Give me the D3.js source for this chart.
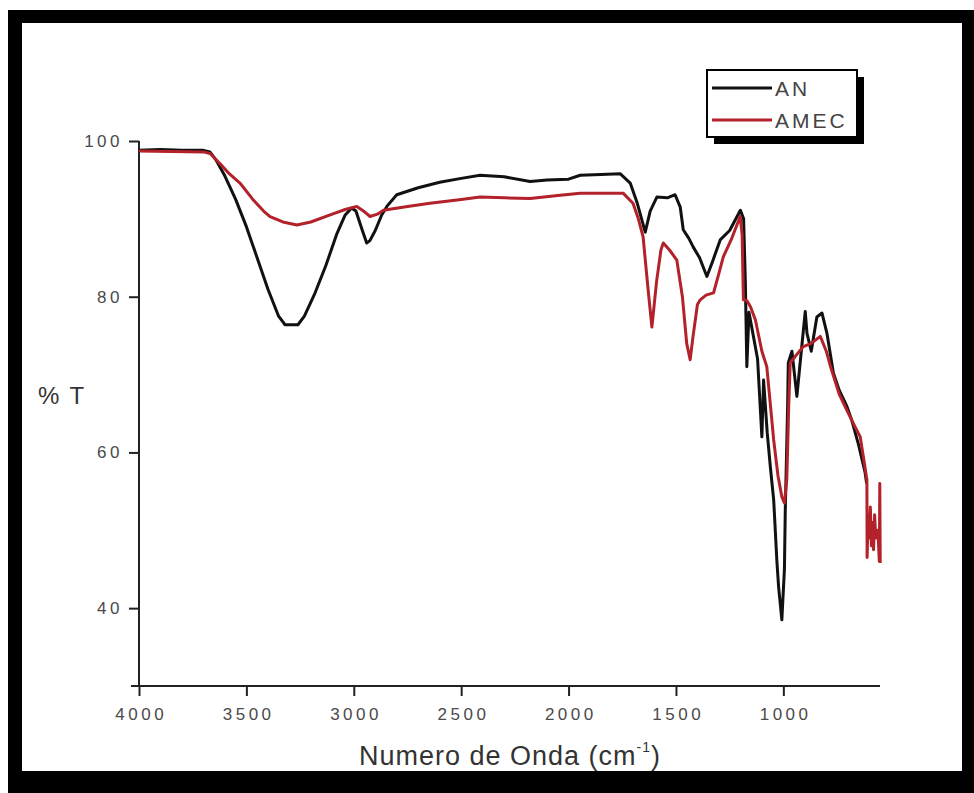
<!DOCTYPE html>
<html>
<head>
<meta charset="utf-8">
<script src="https://cdn.jsdelivr.net/npm/d3@7"></script>
<style>
  html, body { margin: 0; padding: 0; background: #fff; }
  svg { display: block; }
  text { font-family: "Liberation Sans", Arial, sans-serif; }
</style>
</head>
<body>
<svg id="chart" width="974" height="793"></svg>
<script>
// ---- data ----
const seriesNames = ["AN", "AMEC"];
const seriesColors = ["#111111", "#b3212b"];

const xMajorTicks = [4000, 3500, 3000, 2500, 2000, 1500, 1000];
const xMinorTicks = [3750, 3250, 2750, 2250, 1750, 1250, 750];
const yMajorTicks = [40, 60, 80, 100];
const yMinorTicks = [50, 70, 90];

const anWave = [4000, 3900, 3800, 3700, 3670, 3640, 3600, 3550, 3500, 3450, 3400, 3350, 3320, 3260, 3230, 3180, 3130, 3080, 3040, 3010, 2990, 2960, 2940, 2925, 2900, 2870, 2846, 2800, 2700, 2600, 2500, 2412, 2300, 2179, 2100, 2000, 1946, 1850, 1760, 1713, 1680, 1660, 1643, 1620, 1589, 1540, 1504, 1480, 1466, 1440, 1420, 1390, 1356, 1330, 1294, 1250, 1200, 1185, 1177, 1170, 1160, 1140, 1120, 1100, 1092, 1075, 1060, 1045, 1030, 1022, 1007, 995, 991, 980, 977, 960, 937, 920, 898, 890, 870, 844, 820, 797, 767, 740, 704, 680, 650, 620, 612];
const anT    = [98.8, 98.9, 98.8, 98.8, 98.6, 97.5, 95.5, 92.5, 89.0, 85.0, 81.0, 77.5, 76.4, 76.4, 77.5, 80.5, 84.0, 88.0, 90.5, 91.4, 91.0, 88.5, 86.9, 87.2, 88.5, 90.5, 91.6, 93.1, 94.0, 94.7, 95.2, 95.6, 95.4, 94.8, 95.0, 95.1, 95.6, 95.7, 95.8, 94.6, 92.0, 90.0, 88.3, 91.0, 92.8, 92.7, 93.1, 91.5, 88.6, 87.5, 86.4, 85.0, 82.6, 84.5, 87.3, 88.5, 91.1, 90.0, 82.0, 71.0, 78.0, 75.0, 72.0, 62.0, 69.3, 62.5, 58.0, 53.9, 46.0, 42.7, 38.5, 45.0, 52.6, 66.0, 71.5, 73.0, 67.2, 72.0, 78.1, 75.3, 73.0, 77.4, 77.9, 75.3, 70.2, 68.0, 65.9, 64.0, 61.0, 57.5, 56.0];

const amecWave = [4000, 3700, 3669, 3620, 3580, 3530, 3470, 3420, 3390, 3330, 3265, 3200, 3110, 3040, 2986, 2950, 2924, 2890, 2862, 2750, 2645, 2500, 2412, 2300, 2179, 2050, 1946, 1850, 1746, 1700, 1675, 1653, 1630, 1612, 1590, 1570, 1559, 1530, 1496, 1470, 1450, 1434, 1420, 1400, 1387, 1360, 1325, 1300, 1280, 1240, 1201, 1192, 1186, 1170, 1153, 1130, 1100, 1077, 1060, 1045, 1025, 1007, 995, 984, 975, 968, 940, 907, 870, 828, 800, 780, 740, 704, 670, 642, 625, 611, 610, 605, 600, 595, 590, 585, 580, 575, 570, 560, 553, 551, 549];
const amecT    = [98.7, 98.6, 98.4, 97.0, 95.8, 94.6, 92.5, 91.0, 90.3, 89.6, 89.2, 89.6, 90.5, 91.2, 91.6, 90.9, 90.3, 90.6, 91.1, 91.6, 92.0, 92.5, 92.8, 92.7, 92.6, 93.0, 93.3, 93.3, 93.3, 92.0, 90.0, 87.7, 81.0, 76.1, 82.0, 86.0, 86.9, 86.0, 84.7, 80.0, 74.0, 71.9, 75.0, 79.0, 79.6, 80.2, 80.5, 83.0, 85.1, 87.5, 90.3, 88.0, 79.6, 79.5, 78.7, 77.0, 73.0, 71.0, 66.0, 61.6, 57.0, 54.3, 53.5, 56.5, 66.0, 71.5, 72.5, 73.6, 74.0, 74.9, 73.0, 71.0, 67.5, 65.4, 63.5, 62.0, 59.0, 56.5, 46.5, 52.0, 49.0, 53.0, 48.0, 51.0, 47.5, 52.0, 49.0, 50.0, 46.0, 56.0, 45.8];

// ---- drawing ----
const svg = d3.select("#chart");

// outer black frame
svg.append("rect").attr("x", 8).attr("y", 10).attr("width", 966).attr("height", 783).attr("fill", "#000");
svg.append("rect").attr("x", 22).attr("y", 23).attr("width", 940).attr("height", 748).attr("fill", "#fff");

const x = d3.scaleLinear().domain([4000, 550]).range([139, 880]);
const y = d3.scaleLinear().domain([30, 100]).range([686, 141]);

const axisColor = "#222";
const labelColor = "#4a4a4a";

// x axis
const gx = svg.append("g").attr("transform", `translate(0,${y(30)})`);
gx.call(d3.axisBottom(x).tickValues(xMinorTicks).tickSize(6).tickFormat(""));
gx.call(d3.axisBottom(x).tickValues(xMajorTicks).tickSize(10).tickPadding(12).tickFormat(d3.format("d")));
gx.selectAll(".domain").attr("stroke", axisColor).attr("stroke-width", 2).attr("d", `M${x(4000)},0H${x(550)}`);
gx.selectAll(".tick line").attr("stroke", axisColor).attr("stroke-width", 2);
gx.selectAll(".tick text").attr("fill", labelColor).attr("font-size", 17).attr("letter-spacing", 3.5)
  .attr("dx", 1.75).attr("font-family", "Liberation Sans, Arial, sans-serif");

// y axis
const gy = svg.append("g").attr("transform", `translate(${x(4000)},0)`);
gy.call(d3.axisLeft(y).tickValues(yMinorTicks).tickSize(6).tickFormat(""));
gy.call(d3.axisLeft(y).tickValues(yMajorTicks).tickSize(10).tickPadding(6).tickFormat(d3.format("d")));
gy.selectAll(".domain").attr("stroke", axisColor).attr("stroke-width", 2).attr("d", `M0,${y(100)}V${y(30)}`);
gy.selectAll(".tick line").attr("stroke", axisColor).attr("stroke-width", 2);
gy.selectAll(".tick text").attr("fill", labelColor).attr("font-size", 17).attr("letter-spacing", 3.5)
  .attr("font-family", "Liberation Sans, Arial, sans-serif");

// bottom axis line at 30 extends slightly left (cross)
svg.append("line").attr("x1", x(4000) - 8).attr("x2", x(4000)).attr("y1", y(30)).attr("y2", y(30))
  .attr("stroke", axisColor).attr("stroke-width", 2);

// series
const line = d3.line().x(d => x(d[0])).y(d => y(d[1]));
const anData = anWave.map((w, i) => [w, anT[i]]);
const amecData = amecWave.map((w, i) => [w, amecT[i]]);

svg.append("path").datum(anData).attr("d", line).attr("fill", "none")
  .attr("stroke", seriesColors[0]).attr("stroke-width", 3).attr("stroke-linejoin", "round");
svg.append("path").datum(amecData).attr("d", line).attr("fill", "none")
  .attr("stroke", seriesColors[1]).attr("stroke-width", 3).attr("stroke-linejoin", "round");

// axis titles
svg.append("text").attr("x", 38).attr("y", 404).attr("font-size", 24).attr("fill", "#333")
  .attr("letter-spacing", 2).text("% T");

const xt = svg.append("text").attr("x", 510).attr("y", 765).attr("text-anchor", "middle")
  .attr("font-size", 27).attr("letter-spacing", 1).attr("fill", "#333");
xt.append("tspan").text("Numero de Onda (cm");
xt.append("tspan").attr("font-size", 14).attr("dy", -13).text("-1");
xt.append("tspan").attr("dy", 13).text(")");

// legend
const lg = svg.append("g");
lg.append("rect").attr("x", 714).attr("y", 77).attr("width", 150).attr("height", 67).attr("fill", "#000");
lg.append("rect").attr("x", 707).attr("y", 70).attr("width", 150).attr("height", 67)
  .attr("fill", "#fff").attr("stroke", "#000").attr("stroke-width", 2);
const legendY = [88, 120];
seriesNames.forEach((name, i) => {
  lg.append("line").attr("x1", 712).attr("x2", 772).attr("y1", legendY[i]).attr("y2", legendY[i])
    .attr("stroke", seriesColors[i]).attr("stroke-width", 3);
  lg.append("text").attr("x", 775).attr("y", legendY[i] + 8).attr("font-size", 21)
    .attr("letter-spacing", 3).attr("fill", "#444").text(name);
});
</script>
</body>
</html>
